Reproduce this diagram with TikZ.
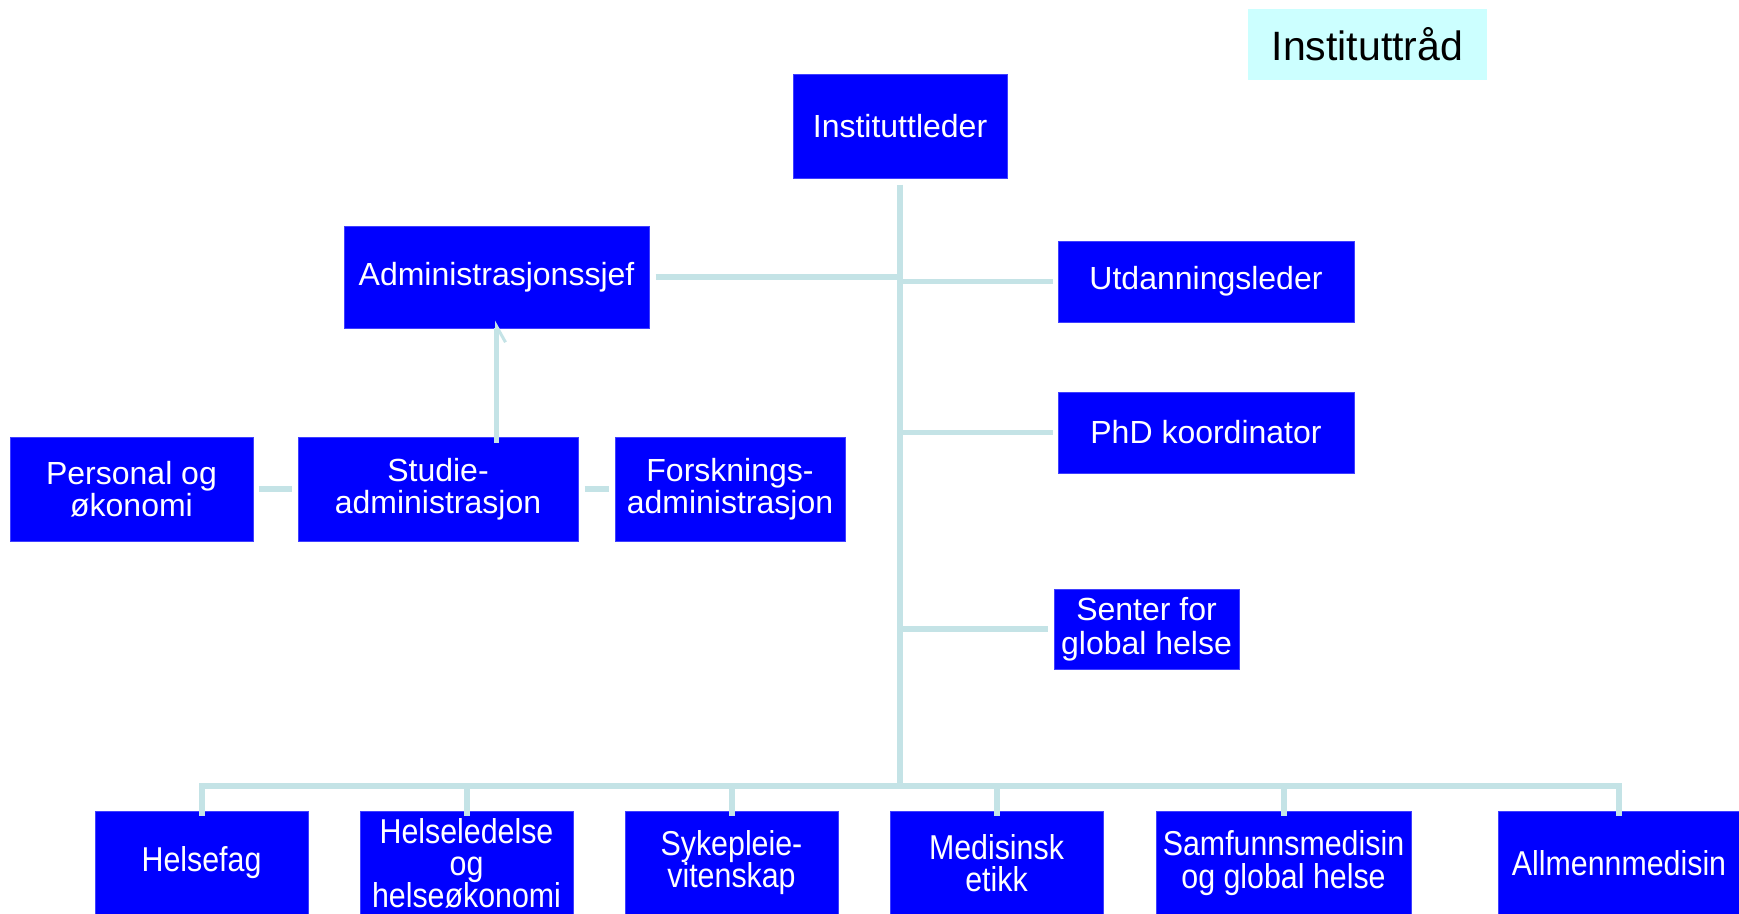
\documentclass[tikz,border=0pt]{standalone}
\usepackage{fontspec}
\setmainfont{Liberation Sans}
\newfontfamily\narrowf[FakeStretch=0.88]{Liberation Sans}
\usetikzlibrary{arrows.meta}
\definecolor{boxblue}{HTML}{0000FF}
\definecolor{bordblue}{HTML}{4040FF}
\definecolor{connc}{HTML}{C4E3E6}
\definecolor{radc}{HTML}{CCFFFF}
\tikzset{
  box/.style={draw=bordblue, line width=1pt, fill=boxblue, text=white, inner sep=0pt, align=center,
    font={\fontsize{32}{32}\selectfont\lineskiplimit=-100pt}},
  twoline/.style={text depth=-2pt},
  bbox/.style={box, minimum width=213pt, minimum height=104pt,
    font={\narrowf\fontsize{34.5}{32}\selectfont\lineskiplimit=-100pt}},
  conn/.style={draw=connc, line width=5.5pt},
}
\begin{document}
\begin{tikzpicture}[x=1pt,y=-1pt]
\useasboundingbox (0,0) rectangle (1739,913);
\clip (0,0) rectangle (1739,913);
% top
\node[fill=radc, minimum width=239pt, minimum height=71pt, inner sep=0pt, font=\fontsize{41}{41}\selectfont] (rad) at (1367.5,44.5) {Instituttråd};
\node[box, minimum width=214pt, minimum height=104pt] (leder) at (900,126) {Instituttleder};
\node[box, minimum width=305pt, minimum height=102pt] (adm) at (496.5,277) {Administrasjonssjef};
\node[box, minimum width=296pt, minimum height=81pt] (utd) at (1206,281.5) {Utdanningsleder};
\node[box, minimum width=296pt, minimum height=81pt] (phd) at (1206,432.5) {PhD koordinator};
\node[box, minimum width=185pt, minimum height=80pt, font={\fontsize{32}{34}\selectfont\lineskiplimit=-100pt}] (senter) at (1146.5,629) {Senter for\\global helse};
% admin row
\node[box, minimum width=243pt, minimum height=104pt] (pers) at (131.5,489) {Personal og\\økonomi};
\node[box, minimum width=280pt, minimum height=104pt] (studie) at (438,489) {Studie-\\administrasjon};
\node[box, minimum width=230pt, minimum height=104pt] (forsk) at (730,489) {Forsknings-\\administrasjon};
% bottom row
\node[bbox] (helsefag) at (201.5,863) {Helsefag};
\node[bbox] (helseled) at (466.5,863) {Helseledelse\\og\\helseøkonomi};
\node[bbox] (syk) at (731.5,863) {Sykepleie-\\vitenskap};
\node[bbox] (med) at (996.5,863) {Medisinsk\\etikk};
\node[bbox, minimum width=255pt, font={\narrowf\fontsize{34.5}{33}\selectfont\lineskiplimit=-100pt}] (samf) at (1283.5,863) {Samfunnsmedisin\\og global helse};
\node[bbox, minimum width=242pt] (allm) at (1619,863) {Allmennmedisin};
% trunk coordinates
\coordinate (tb) at (900,786);
\coordinate (ta) at (900,277);
\coordinate (tu) at (900,281.5);
\coordinate (tp) at (900,432.5);
\coordinate (ts) at (900,629);
% connectors
\draw[conn, line width=6pt] ([yshift=-6pt]leder.south) -- (tb);
\draw[conn] ([xshift=6pt]adm.east) -- (ta);
\draw[conn] (tu) -- ([xshift=-5pt]utd.west);
\draw[conn] (tp) -- ([xshift=-5pt]phd.west);
\draw[conn] (ts) -- ([xshift=-6pt]senter.west);
\foreach \n in {helsefag,helseled,syk,med,samf,allm}
  \draw[conn, line width=6pt] ([yshift=-5pt]\n.north) |- (tb);
\draw[conn] ([xshift=5pt]pers.east) -- ([xshift=-6pt]studie.west);
\draw[conn] ([xshift=6pt]studie.east) -- ([xshift=-6pt]forsk.west);
\draw[conn, -{Straight Barb[right,length=16pt,width=18pt,line width=3pt]}] ([yshift=-6pt]studie.north -| adm.south) -- ([yshift=8pt]adm.south);
\end{tikzpicture}
\end{document}
